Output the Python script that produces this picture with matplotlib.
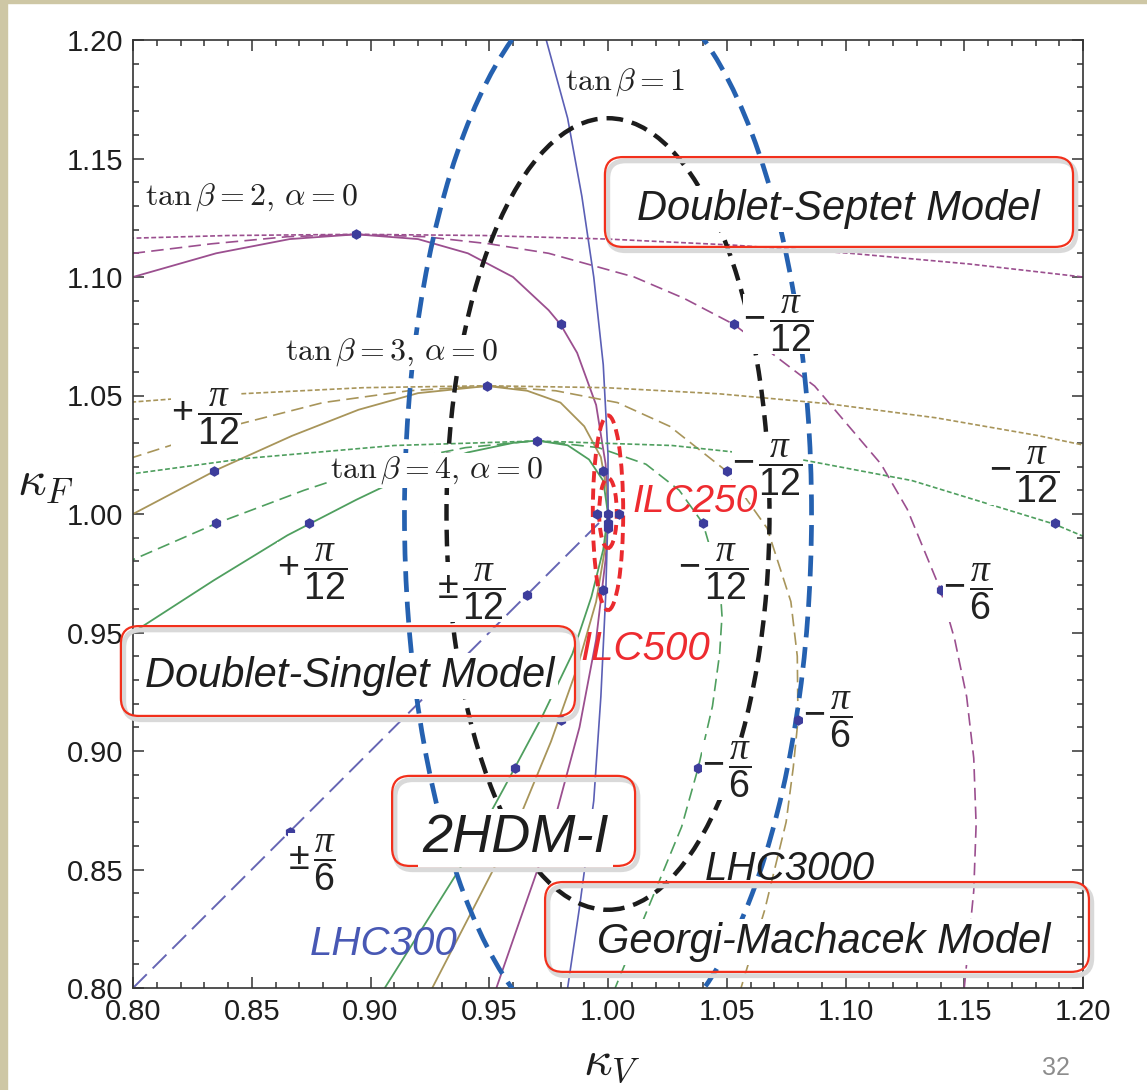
import matplotlib
matplotlib.use("Agg")
import matplotlib.pyplot as plt
from matplotlib.patches import Ellipse, FancyBboxPatch, Rectangle
from matplotlib.ticker import MultipleLocator, FormatStrFormatter

plt.rcParams['font.family'] = ['Liberation Sans', 'DejaVu Sans']
plt.rcParams['mathtext.fontset'] = 'custom'
plt.rcParams['mathtext.rm'] = 'Liberation Sans'
plt.rcParams['mathtext.it'] = 'Liberation Serif:italic'
plt.rcParams['mathtext.bf'] = 'Liberation Sans:bold'
plt.rcParams['lines.scale_dashes'] = False

# ---------------------------------------------------------------
# curves  (kappa_V, kappa_F)
# 2HDM-I, solid
hdm1_kv = [0.974, 0.983, 0.989, 0.994, 0.998, 1.000, 1.000, 0.999, 0.997, 0.994, 0.988, 0.983]
hdm1_kf = [1.200, 1.167, 1.134, 1.100, 1.063, 1.025, 1.000, 0.965, 0.923, 0.879, 0.834, 0.800]
hdm2_kv = [0.800, 0.835, 0.866, 0.894, 0.920, 0.941, 0.960, 0.975, 0.980, 0.987, 0.995, 0.999,
           1.000, 0.999, 0.995, 0.988, 0.977, 0.962, 0.953]
hdm2_kf = [1.100, 1.110, 1.116, 1.118, 1.116, 1.110, 1.100, 1.086, 1.080, 1.068, 1.046, 1.021,
           1.000, 0.981, 0.947, 0.910, 0.869, 0.826, 0.800]
hdm3_kv = [0.800, 0.836, 0.867, 0.895, 0.920, 0.949, 0.966, 0.980, 0.990, 0.997, 1.000, 1.000,
           0.999, 0.995, 0.987, 0.976, 0.962, 0.943, 0.926]
hdm3_kf = [1.000, 1.019, 1.033, 1.044, 1.051, 1.054, 1.052, 1.047, 1.037, 1.024, 1.007, 1.000,
           0.987, 0.963, 0.935, 0.904, 0.870, 0.833, 0.800]
hdm4_kv = [0.800, 0.834, 0.865, 0.894, 0.919, 0.941, 0.960, 0.970, 0.983, 0.992, 0.998, 1.000,
           0.998, 0.993, 0.985, 0.972, 0.956, 0.938, 0.906]
hdm4_kf = [0.950, 0.972, 0.991, 1.006, 1.018, 1.026, 1.030, 1.031, 1.029, 1.023, 1.014, 1.000,
           0.985, 0.965, 0.941, 0.914, 0.884, 0.851, 0.800]

# Georgi-Machacek, dashed
gm2_kv = [0.792, 0.833, 0.865, 0.894, 0.923, 0.950, 0.975, 1.011, 1.032, 1.053, 1.087, 1.115,
          1.126, 1.140, 1.146, 1.151, 1.154, 1.155, 1.154, 1.150]
gm2_kf = [1.109, 1.114, 1.117, 1.118, 1.117, 1.114, 1.110, 1.100, 1.091, 1.080, 1.054, 1.021,
          1.002, 0.968, 0.947, 0.923, 0.897, 0.869, 0.841, 0.800]
gm3_kv = [0.791, 0.841, 0.880, 0.916, 0.949, 0.978, 1.004, 1.026, 1.050, 1.067, 1.077, 1.0797,
          1.080, 1.078, 1.075, 1.066, 1.056]
gm3_kf = [1.021, 1.037, 1.047, 1.052, 1.054, 1.052, 1.047, 1.037, 1.018, 0.994, 0.963, 0.940,
          0.913, 0.893, 0.870, 0.833, 0.800]
gm4_kv = [0.796, 0.835, 0.872, 0.905, 0.940, 0.970, 0.996, 1.016, 1.030, 1.040, 1.047, 1.048,
          1.047, 1.044, 1.038, 1.031, 1.024, 1.003]
gm4_kf = [0.979, 0.996, 1.010, 1.021, 1.028, 1.031, 1.028, 1.021, 1.010, 0.996, 0.972, 0.957,
          0.941, 0.919, 0.893, 0.868, 0.851, 0.800]

# Doublet-Septet, fine dashes
sep2_kv = [0.786, 0.840, 0.894, 0.948, 1.000, 1.052, 1.102, 1.152, 1.200, 1.216]
sep2_kf = [1.1160, 1.1175, 1.1180, 1.1175, 1.1160, 1.1135, 1.1100, 1.1055, 1.1000, 1.0979]
sep3_kv = [0.790, 0.845, 0.897, 0.949, 0.999, 1.047, 1.093, 1.138, 1.181, 1.202]
sep3_kf = [1.0465, 1.0507, 1.0533, 1.0541, 1.0533, 1.0507, 1.0465, 1.0406, 1.0331, 1.0287]
sep4_kv = [0.792, 0.847, 0.910, 0.970, 1.027, 1.079, 1.128, 1.188, 1.207]
sep4_kf = [1.0159, 1.0234, 1.0289, 1.0308, 1.0289, 1.0234, 1.0141, 0.9957, 0.9877]

# Doublet-Singlet, long dashes
sing_kv = [0.80, 1.00]
sing_kf = [0.80, 1.00]

# benchmark points
dot_kv = [0.894, 0.980, 0.998, 0.949, 0.834, 0.998, 0.980, 0.970, 0.874, 1.000, 0.961,
          1.000, 1.053, 1.140, 1.050, 1.080, 0.835, 1.040, 1.038, 1.188, 0.866, 0.966,
          0.9955, 1.0045, 1.000]
dot_kf = [1.118, 1.080, 0.968, 1.054, 1.018, 1.018, 0.913, 1.031, 0.996, 0.996, 0.893,
          1.000, 1.080, 0.968, 1.018, 0.913, 0.996, 0.996, 0.893, 0.996, 0.866, 0.966,
          1.000, 1.000, 0.994]

# precision ellipses: name, centre, half widths
ell_names = ["LHC300", "LHC3000", "ILC250", "ILC500"]
ell_center = [(1.000, 1.000), (1.000, 1.000), (1.000, 1.0005), (1.000, 1.0004)]
ell_half_v = [0.0857, 0.068, 0.0064, 0.0037]
ell_half_f = [0.227, 0.167, 0.0411, 0.0148]

# alpha labels
frac_text = [r"$+\,\dfrac{\pi}{12}$", r"$+\,\dfrac{\pi}{12}$", r"$\pm\,\dfrac{\pi}{12}$", r"$\pm\,\dfrac{\pi}{6}$",
             r"$-\,\dfrac{\pi}{12}$", r"$-\,\dfrac{\pi}{12}$", r"$-\,\dfrac{\pi}{12}$", r"$-\,\dfrac{\pi}{12}$",
             r"$-\,\dfrac{\pi}{6}$", r"$-\,\dfrac{\pi}{6}$", r"$-\,\dfrac{\pi}{6}$"]
frac_kv = [0.8307, 0.8754, 0.9423, 0.8754, 1.0716, 1.0670, 1.0442, 1.1752, 1.1516, 1.0501, 1.0926]
frac_kf = [1.0409, 0.9755, 0.9671, 0.8527, 1.0802, 1.0194, 0.9755, 1.0165, 0.9671, 0.8920, 0.9131]
# ---------------------------------------------------------------

PURPLE = "#9b4f8f"
OLIVE = "#a8955a"
GREEN = "#4f9f5f"
VIOLET = "#5b5fb5"

fig = plt.figure(figsize=(11.47, 10.9), dpi=100)
fig.patch.set_facecolor("white")
fig.patches.append(Rectangle((0, 0), 7 / 1147, 1, transform=fig.transFigure,
                             color="#cec7a5", zorder=0))
fig.patches.append(Rectangle((0, 1 - 3 / 1090), 1, 3 / 1090, transform=fig.transFigure,
                             color="#cec7a5", zorder=0))

ax = fig.add_axes([133 / 1147, 1 - 988 / 1090, 950 / 1147, 948 / 1090])
ax.set_xlim(0.8, 1.2)
ax.set_ylim(0.8, 1.2)

solid = "-"
gm_dash = (0, (9, 4.5))
sep_dash = (0, (3.5, 1.8))

for kv, kf, c in [(hdm2_kv, hdm2_kf, PURPLE), (hdm3_kv, hdm3_kf, OLIVE), (hdm4_kv, hdm4_kf, GREEN)]:
    ax.plot(kv, kf, color=c, lw=1.3, ls=solid, zorder=2)
ax.plot(hdm1_kv, hdm1_kf, color=VIOLET, lw=1.2, ls=solid, zorder=2)
for kv, kf, c in [(gm2_kv, gm2_kf, PURPLE), (gm3_kv, gm3_kf, OLIVE), (gm4_kv, gm4_kf, GREEN)]:
    ax.plot(kv, kf, color=c, lw=1.2, ls=gm_dash, zorder=2)
for kv, kf, c in [(sep2_kv, sep2_kf, PURPLE), (sep3_kv, sep3_kf, OLIVE), (sep4_kv, sep4_kf, GREEN)]:
    ax.plot(kv, kf, color=c, lw=1.2, ls=sep_dash, zorder=2)
ax.plot(sing_kv, sing_kf, color="#6666b4", lw=1.4, ls=(0, (14, 6)), zorder=2)

ax.plot(dot_kv, dot_kf, ls="none", marker="h", ms=6.5, color="#3d3d9c", zorder=6)

ell_style = {
    "LHC300": dict(ec="#2561b0", lw=3.4, ls=(0, (15, 7))),
    "LHC3000": dict(ec="#1c1c1c", lw=3.2, ls=(0, (12, 6.5))),
    "ILC250": dict(ec="#ea2a2e", lw=2.8, ls=(0, (8, 4.5))),
    "ILC500": dict(ec="#ea2a2e", lw=2.8, ls=(0, (7, 4.5))),
}
for name, cen, hv, hf in zip(ell_names, ell_center, ell_half_v, ell_half_f):
    st = ell_style[name]
    ax.add_patch(Ellipse(cen, 2 * hv, 2 * hf, fill=False, edgecolor=st["ec"],
                         lw=st["lw"], ls=st["ls"], zorder=4))

# tick setup
for axis in (ax.xaxis, ax.yaxis):
    axis.set_major_locator(MultipleLocator(0.05))
    axis.set_minor_locator(MultipleLocator(0.01))
    axis.set_major_formatter(FormatStrFormatter("%.2f"))
ax.tick_params(which="both", direction="in", top=True, right=True, color="#333333", width=1.1)
ax.tick_params(which="major", length=8, labelsize=21, labelcolor="#1e1e1e", pad=7)
ax.tick_params(which="minor", length=4.5)
for sp in ax.spines.values():
    sp.set_color("#333333")
    sp.set_linewidth(1.2)

# labels of tan beta
white = dict(boxstyle="square,pad=0.05", fc="white", ec="none")
ax.text(0.8051, 1.1304, r"$\tan\beta = 2,\, \alpha = 0$", fontsize=23, math_fontfamily="cm",
        color="#222222", ha="left", va="baseline", zorder=7, bbox=white)
ax.text(0.864, 1.065, r"$\tan\beta = 3,\, \alpha = 0$", fontsize=23, math_fontfamily="cm",
        color="#222222", ha="left", va="baseline", zorder=7, bbox=white)
ax.text(0.883, 1.0152, r"$\tan\beta = 4,\, \alpha = 0$", fontsize=23, math_fontfamily="cm",
        color="#222222", ha="left", va="baseline", zorder=7, bbox=white)
ax.text(0.982, 1.179, r"$\tan\beta = 1$", fontsize=23, math_fontfamily="cm",
        color="#222222", ha="left", va="baseline", zorder=7, bbox=white)

for t, x, y in zip(frac_text, frac_kv, frac_kf):
    ax.text(x, y, t, fontsize=27, math_fontfamily="custom", color="#222222",
            ha="center", va="center", zorder=7,
            bbox=dict(boxstyle="square,pad=0.0", fc="white", ec="none"))

# collider labels
ax.text(1.0105, 1.0008, "ILC250", fontsize=28, style="italic", color="#ee2b30", zorder=8)
ax.text(0.9882, 0.9384, "ILC500", fontsize=29, style="italic", color="#ee2b30", zorder=8)
ax.text(0.8745, 0.8139, "LHC300", fontsize=29, style="italic", color="#4858b4", zorder=8)
ax.text(1.0408, 0.8456, "LHC3000", fontsize=29, style="italic", color="#1e1e1e", zorder=8)

# model boxes
boxes = [
    ("Doublet-Septet Model", 1.0122, 1.1241, 30, (0.9987, 1.1127, 0.1971, 0.0379)),
    ("Doublet-Singlet Model", 0.8051, 0.9270, 30, (0.7949, 0.9148, 0.1912, 0.0379)),
    ("2HDM-I", 0.9217, 0.8574, 39, (0.9091, 0.8515, 0.1023, 0.0380)),
    ("Georgi-Machacek Model", 0.9954, 0.8148, 30, (0.9735, 0.8068, 0.2290, 0.0379)),
]
for txt, tx, ty, fs, (bx, by, bw, bh) in boxes:
    shadow = FancyBboxPatch((bx + 0.0012, by - 0.0016), bw, bh,
                            boxstyle="round,pad=0,rounding_size=0.0075",
                            fc="none", ec="#d9d9d9", lw=3.5, zorder=8, clip_on=False)
    ax.add_patch(shadow)
    box = FancyBboxPatch((bx, by), bw, bh, boxstyle="round,pad=0,rounding_size=0.0075",
                         fc="none", ec="#f2301c", lw=1.6, zorder=9, clip_on=False)
    ax.add_patch(box)
    ax.text(tx, ty, txt, fontsize=fs, style="italic", color="#1e1e1e", ha="left",
            va="baseline", zorder=9, bbox=dict(boxstyle="square,pad=0.08", fc="white", ec="none"))

# axis titles
fig.text(45 / 1147, 1 - 482 / 1090, r"$\kappa_F$", fontsize=36, math_fontfamily="cm",
         color="#1e1e1e", ha="center", va="center")
fig.text(612 / 1147, 1 - 1062 / 1090, r"$\kappa_V$", fontsize=36, math_fontfamily="cm",
         color="#1e1e1e", ha="center", va="center")
fig.text(1056 / 1147, 1 - 1068 / 1090, "32", fontsize=18, color="#8c8c8c",
         ha="center", va="center")

fig.savefig("out.png", dpi=100)
